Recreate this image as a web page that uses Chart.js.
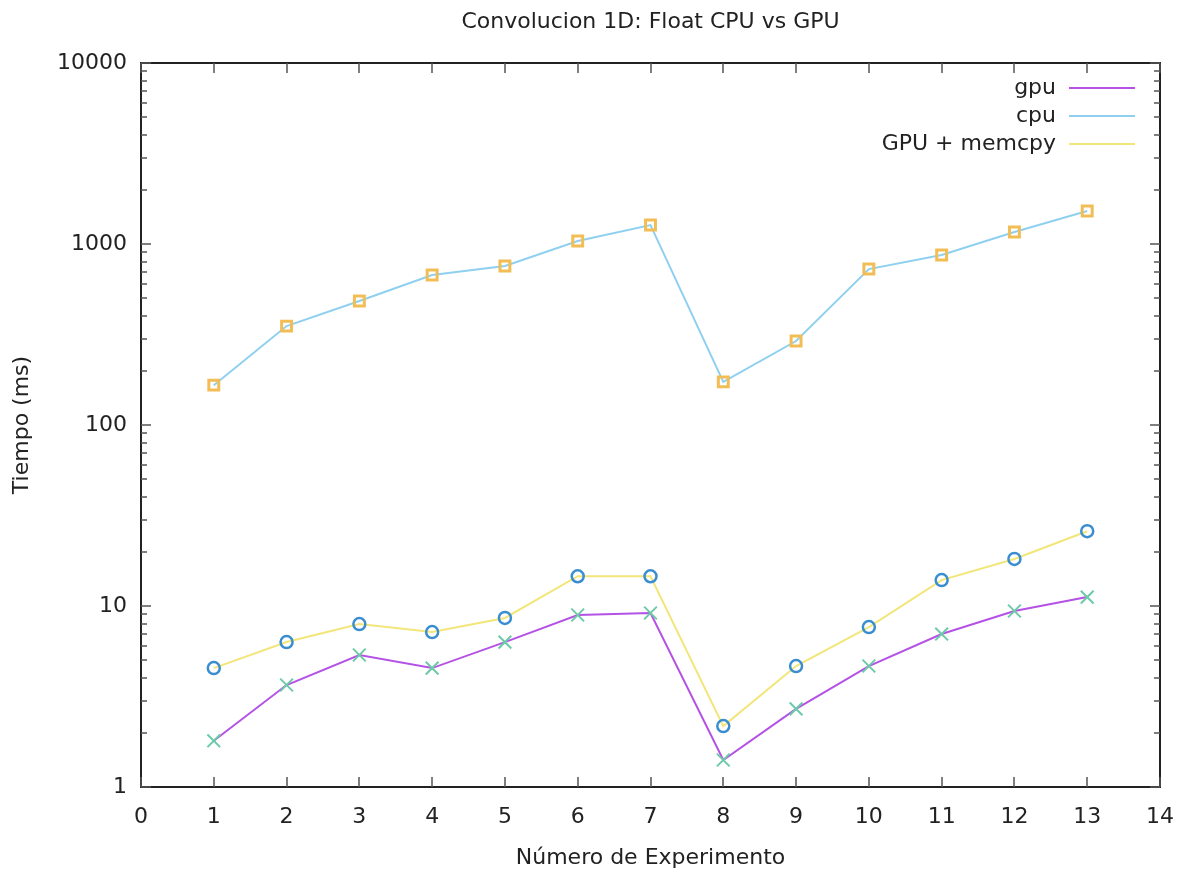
<!DOCTYPE html>
<html>
<head>
<meta charset="utf-8">
<script src="https://cdn.jsdelivr.net/npm/chart.js@4.4.1/dist/chart.umd.min.js"></script>
<style>
  html, body { margin: 0; padding: 0; background: #fff; }
  #wrap { width: 1186px; height: 875px; }
</style>
</head>
<body>
<div id="wrap"><canvas id="myChart" width="1186" height="875"></canvas></div>
<script>
// datos
var experimentos = [1, 2, 3, 4, 5, 6, 7, 8, 9, 10, 11, 12, 13];
var gpu = [1.80, 3.66, 5.36, 4.54, 6.32, 8.92, 9.15, 1.41, 2.70, 4.66, 7.0, 9.38, 11.2];
var cpu = [166, 352, 484, 674, 756, 1039, 1273, 173, 291, 727, 869, 1164, 1521];
var gpuMemcpy = [4.54, 6.32, 7.95, 7.18, 8.59, 14.6, 14.6, 2.17, 4.66, 7.65, 13.9, 18.2, 25.9];
var xTicks = [0, 1, 2, 3, 4, 5, 6, 7, 8, 9, 10, 11, 12, 13, 14];
var yTicks = [1, 10, 100, 1000, 10000];

var FONT = 'DejaVu Sans';
var FSIZE = 22;

function pts(ys) {
    return ys.map(function (v, i) { return { x: experimentos[i], y: v }; });
}

// marco, ticks hacia dentro, titulos y leyenda estilo gnuplot
var gnuplotStyle = {
    id: 'gnuplotStyle',
    afterDraw: function (chart) {
        var c = chart.ctx, a = chart.chartArea;
        var xs = chart.scales.x, ys = chart.scales.y;
        c.save();
        c.strokeStyle = '#222';
        c.lineWidth = 2;
        c.strokeRect(a.left, a.top, a.right - a.left, a.bottom - a.top);
        c.lineWidth = 1.5;
        c.strokeStyle = '#555';
        c.beginPath();
        xTicks.forEach(function (t) {
            var px = Math.round(xs.getPixelForValue(t));
            c.moveTo(px, a.bottom); c.lineTo(px, a.bottom - 10);
            c.moveTo(px, a.top); c.lineTo(px, a.top + 10);
        });
        for (var d = 1; d < 10000; d *= 10) {
            for (var m = 1; m <= 10; m++) {
                var py = Math.round(ys.getPixelForValue(d * m));
                var len = (m === 1 || m === 10) ? 10 : 6;
                c.moveTo(a.left, py); c.lineTo(a.left + len, py);
                c.moveTo(a.right, py); c.lineTo(a.right - len, py);
            }
        }
        c.stroke();

        c.fillStyle = '#222';
        c.font = FSIZE + 'px ' + FONT;
        c.textAlign = 'center';
        c.textBaseline = 'middle';
        c.fillText('Convolucion 1D: Float CPU vs GPU', (a.left + a.right) / 2, 22);
        c.fillText('Número de Experimento', (a.left + a.right) / 2, 858);
        c.save();
        c.translate(22, (a.top + a.bottom) / 2);
        c.rotate(-Math.PI / 2);
        c.fillText('Tiempo (ms)', 0, 0);
        c.restore();

        c.textAlign = 'right';
        chart.data.datasets.forEach(function (ds, i) {
            var y = 88 + i * 28;
            c.fillStyle = '#222';
            c.fillText(ds.label, 1056, y);
            c.strokeStyle = ds.borderColor;
            c.lineWidth = 2;
            c.beginPath();
            c.moveTo(1069, y); c.lineTo(1135, y);
            c.stroke();
        });
        c.restore();
    }
};

var ctx = document.getElementById('myChart').getContext('2d');
var myChart = new Chart(ctx, {
    type: 'line',
    data: {
        datasets: [{
            label: 'gpu',
            data: pts(gpu),
            borderColor: '#b552e6',
            borderWidth: 2,
            pointStyle: 'crossRot',
            pointRadius: 9,
            pointBorderWidth: 2,
            pointBorderColor: '#6ccaa8',
            pointBackgroundColor: 'transparent'
        }, {
            label: 'cpu',
            data: pts(cpu),
            borderColor: '#8fd0f0',
            borderWidth: 2,
            pointStyle: 'rect',
            pointRadius: 7,
            pointBorderWidth: 3,
            pointBorderColor: '#f2bd55',
            pointBackgroundColor: 'transparent'
        }, {
            label: 'GPU + memcpy',
            data: pts(gpuMemcpy),
            borderColor: '#f2e67a',
            borderWidth: 2,
            pointStyle: 'circle',
            pointRadius: 6,
            pointBorderWidth: 2.5,
            pointBorderColor: '#3a8ecf',
            pointBackgroundColor: 'transparent'
        }]
    },
    options: {
        responsive: false,
        animation: false,
        layout: { padding: { left: 0, right: 26, top: 63, bottom: 0 } },
        plugins: {
            legend: { display: false },
            title: { display: false },
            tooltip: { enabled: false }
        },
        scales: {
            x: {
                type: 'linear',
                min: 0,
                max: 14,
                afterBuildTicks: function (s) { s.ticks = xTicks.map(function (v) { return { value: v }; }); },
                afterFit: function (s) { s.height = 88; },
                grid: { display: false },
                border: { display: false },
                ticks: { padding: 9, color: '#222', font: { family: FONT, size: FSIZE }, maxRotation: 0 }
            },
            y: {
                type: 'logarithmic',
                min: 1,
                max: 10000,
                afterBuildTicks: function (s) { s.ticks = yTicks.map(function (v) { return { value: v }; }); },
                afterFit: function (s) { s.width = 141; },
                grid: { display: false },
                border: { display: false },
                ticks: {
                    padding: 6,
                    color: '#222',
                    font: { family: FONT, size: FSIZE },
                    callback: function (v) { return String(v); }
                }
            }
        }
    },
    plugins: [gnuplotStyle]
});
</script>
</body>
</html>
